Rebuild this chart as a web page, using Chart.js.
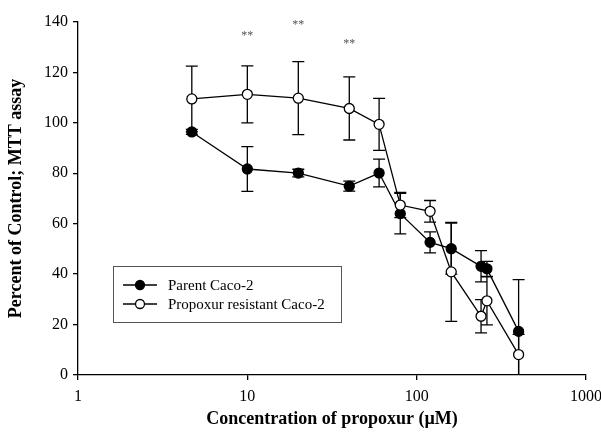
<!DOCTYPE html>
<html lang="en">
<head>
  <meta charset="UTF-8">
  <title>Propoxur MTT assay</title>
  <script src="https://cdn.jsdelivr.net/npm/chart.js@4.4.0/dist/chart.umd.min.js"></script>
  <style>
    body { margin: 0; background: #fff; }
  </style>
</head>
<body>
  <canvas id="myChart" width="601" height="438"></canvas>

<script>
// data
const conc = [4.7, 10, 20, 40, 60, 80, 120, 160, 240, 260, 400]
const parent = [96.4, 81.7, 80.1, 74.9, 80.1, 64.0, 52.6, 50.1, 43.1, 42.1, 17.3]
const parentErr = [1, 8.9, 1.5, 2, 5.5, 8, 4.2, 10.1, 6.2, 3, 20.5]
const resistant = [109.5, 111.3, 109.8, 105.7, 99.4, 67.4, 64.9, 40.9, 23.3, 29.4, 8.1]
const resistantErr = [13, 11.3, 14.5, 12.5, 10.3, 5, 4.3, 19.6, 6.6, 9.5, 8]
const xTicks = [1, 10, 100, 1000]
const yTicks = [0, 20, 40, 60, 80, 100, 120, 140]
// significance marks (**)
const starX = [10, 20, 40]
const starY = [134.6, 139, 131.3]

const serif = '"Liberation Serif", "Times New Roman", serif'

const errorBars = {
  id: 'errorBars',
  beforeDatasetsDraw(chart) {
    const ctx = chart.ctx
    const xs = chart.scales.x, ys = chart.scales.y
    const area = chart.chartArea
    ctx.save()
    ctx.beginPath()
    ctx.rect(area.left, area.top - 5, area.right - area.left, area.bottom - area.top + 5)
    ctx.clip()
    ctx.strokeStyle = '#000'
    ctx.lineWidth = 1.3
    chart.data.datasets.forEach(ds => {
      ds.data.forEach((p, i) => {
        const e = ds.err[i]
        const x = xs.getPixelForValue(p.x)
        const y1 = ys.getPixelForValue(p.y + e)
        const y2 = ys.getPixelForValue(p.y - e)
        ctx.beginPath()
        ctx.moveTo(x, y1); ctx.lineTo(x, y2)
        ctx.moveTo(x - 6, y1); ctx.lineTo(x + 6, y1)
        ctx.moveTo(x - 6, y2); ctx.lineTo(x + 6, y2)
        ctx.stroke()
      })
    })
    ctx.restore()
  },
  afterDraw(chart) {
    const ctx = chart.ctx
    const xs = chart.scales.x, ys = chart.scales.y
    ctx.save()
    ctx.fillStyle = '#555'
    ctx.font = '12px ' + serif
    ctx.textAlign = 'center'
    ctx.textBaseline = 'middle'
    starX.forEach((v, i) => {
      ctx.fillText('**', xs.getPixelForValue(v), ys.getPixelForValue(starY[i]))
    })

    // legend box inside the plot
    const area = chart.chartArea
    const bx = area.left + 35, by = area.top + 244
    ctx.strokeStyle = '#555'
    ctx.lineWidth = 1
    ctx.strokeRect(bx + 0.5, by + 0.5, 228, 56)
    ctx.font = '15px ' + serif
    ctx.textAlign = 'left'
    ctx.fillStyle = '#000'
    chart.data.datasets.forEach((ds, i) => {
      const ly = by + 19 + i * 19
      ctx.strokeStyle = '#000'
      ctx.lineWidth = 1.3
      ctx.beginPath()
      ctx.moveTo(bx + 10, ly); ctx.lineTo(bx + 44, ly)
      ctx.stroke()
      ctx.beginPath()
      ctx.arc(bx + 27, ly, 4.5, 0, Math.PI * 2)
      ctx.fillStyle = ds.pointBackgroundColor
      ctx.fill()
      ctx.stroke()
      ctx.fillStyle = '#000'
      ctx.fillText(ds.label, bx + 55, ly + 1)
    })
    ctx.restore()
  }
}

const ctx = document.getElementById('myChart').getContext('2d')

const axisGrid = { drawOnChartArea: false, tickLength: 5, color: '#000', lineWidth: 1.3 }
const axisBorder = { color: '#000', width: 1.3 }

new Chart(ctx, {
  type: 'line',
  data: {
    datasets: [{
      label: 'Parent Caco-2',
      data: conc.map((c, i) => ({ x: c, y: parent[i] })),
      err: parentErr,
      borderColor: '#000',
      borderWidth: 1.3,
      pointRadius: 5,
      pointBorderWidth: 1.3,
      pointBackgroundColor: '#000',
      pointBorderColor: '#000',
      tension: 0,
      order: 2
    }, {
      label: 'Propoxur resistant Caco-2',
      data: conc.map((c, i) => ({ x: c, y: resistant[i] })),
      err: resistantErr,
      borderColor: '#000',
      borderWidth: 1.3,
      pointRadius: 5,
      pointBorderWidth: 1.3,
      pointBackgroundColor: '#fff',
      pointBorderColor: '#000',
      tension: 0,
      order: 1
    }]
  },
  options: {
    responsive: false,
    animation: false,
    layout: { padding: { top: 22, right: 15, left: 0, bottom: 0 } },
    plugins: {
      legend: { display: false },
      tooltip: { enabled: false }
    },
    scales: {
      x: {
        type: 'logarithmic',
        min: 1,
        max: 1000,
        afterBuildTicks: s => { s.ticks = xTicks.map(v => ({ value: v })) },
        afterFit: s => { s.height = 63; s.paddingRight = 0; s.paddingLeft = 0 },
        ticks: {
          callback: v => String(v),
          font: { family: serif, size: 16 },
          color: '#000',
          padding: 7,
          maxRotation: 0,
          autoSkip: false
        },
        grid: axisGrid,
        border: axisBorder,
        title: {
          display: true,
          text: 'Concentration of propoxur (\u00b5M)',
          font: { family: serif, size: 18, weight: 'bold' },
          color: '#000',
          padding: { top: 0, bottom: 8 }
        }
      },
      y: {
        min: 0,
        max: 140,
        afterBuildTicks: s => { s.ticks = yTicks.map(v => ({ value: v })) },
        afterFit: s => { s.width = 78 },
        ticks: {
          font: { family: serif, size: 16 },
          color: '#000',
          padding: 5
        },
        grid: axisGrid,
        border: axisBorder,
        title: {
          display: true,
          text: 'Percent of Control; MTT assay',
          font: { family: serif, size: 18, weight: 'bold' },
          color: '#000',
          padding: { top: 6, bottom: 0 }
        }
      }
    }
  },
  plugins: [errorBars]
})
</script>
</body>
</html>
